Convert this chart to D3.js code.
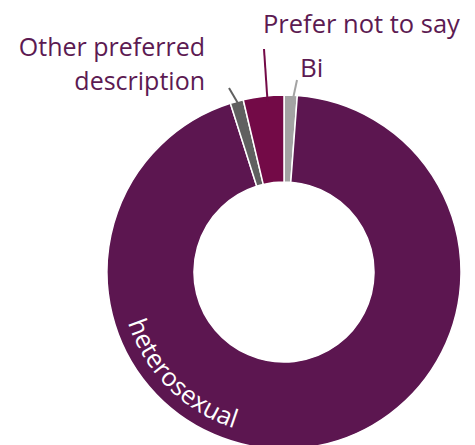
<!DOCTYPE html>
<html>
<head>
<meta charset="utf-8">
<script src="https://cdn.jsdelivr.net/npm/d3@7/dist/d3.min.js"></script>
<style>
  html, body { margin: 0; padding: 0; background: #fff; }
  svg { display: block; }
  text { font-family: "Open Sans", "Noto Sans", sans-serif; }
</style>
</head>
<body>
<svg id="chart" width="475" height="445"></svg>
<script>
// Sexual orientation breakdown (percent of respondents)
const categories = ["Bi", "heterosexual", "Other preferred description", "Prefer not to say"];
const values = [1.2, 93.9, 1.2, 3.7];
const colors = ["#a3a3a3", "#5c1650", "#606060", "#730a47"];

const width = 475, height = 445;
const cx = 284, cy = 272;
const outerR = 177, innerR = 90;
const labelColor = "#5c1a52";

const svg = d3.select("#chart");
const g = svg.append("g").attr("transform", `translate(${cx},${cy})`);

const data = categories.map((c, i) => ({ name: c, value: values[i], color: colors[i] }));

const pie = d3.pie().sort(null).value(d => d.value).startAngle(0).endAngle(2 * Math.PI);
const arcs = pie(data);
const arc = d3.arc().innerRadius(innerR).outerRadius(outerR);

g.selectAll("path.slice")
  .data(arcs)
  .join("path")
  .attr("class", "slice")
  .attr("d", arc)
  .attr("fill", d => d.data.color)
  .attr("stroke", "#fff")
  .attr("stroke-width", 1.5)
  .attr("stroke-linejoin", "round");

// point on a circle at a d3 angle (clockwise from 12 o'clock)
const polar = (a, r) => [r * Math.sin(a), -r * Math.cos(a)];

// leader lines for the small slices: start on the rim, end beneath the label
const leaders = {
  "Bi": { end: [297, 80], shift: 0.012 },
  "Other preferred description": { end: [229, 88], shift: 0.01 },
  "Prefer not to say": { end: [264, 49], shift: 0.02 }
};

arcs.filter(d => leaders[d.data.name]).forEach(d => {
  const L = leaders[d.data.name];
  const mid = (d.startAngle + d.endAngle) / 2 + L.shift;
  const p = polar(mid, outerR - 6);
  g.append("line")
    .attr("x1", p[0]).attr("y1", p[1])
    .attr("x2", L.end[0] - cx).attr("y2", L.end[1] - cy)
    .attr("stroke", d.data.color)
    .attr("stroke-width", 2);
});

// outside labels
const prefer = svg.append("text")
  .attr("x", 263).attr("y", 33)
  .attr("fill", labelColor)
  .attr("font-size", 25.5)
  .text(categories[3]);
// spread the letters so the label spans to x = 457
const pw = prefer.node().getComputedTextLength();
const pn = categories[3].length;
prefer.attr("letter-spacing", Math.max(0, (194 - pw) / pn));

svg.append("text")
  .attr("x", 300).attr("y", 77)
  .attr("fill", labelColor)
  .attr("font-size", 26)
  .text(categories[0]);

const other = svg.append("text")
  .attr("text-anchor", "end")
  .attr("fill", labelColor)
  .attr("font-size", 25);
other.append("tspan").attr("x", 205).attr("y", 56).text("Other preferred");
other.append("tspan").attr("x", 205).attr("y", 90).text("description");

// curved label inside the large slice, running counter-clockwise along the ring
const het = arcs[1];
const textR = 164;
const a0 = 252 * Math.PI / 180, a1 = 185 * Math.PI / 180;
const s = polar(a0, textR), e = polar(a1, textR);
g.append("path")
  .attr("id", "hetPath")
  .attr("d", `M${s[0]},${s[1]} A${textR},${textR} 0 0 0 ${e[0]},${e[1]}`)
  .attr("fill", "none");

g.append("text")
  .attr("fill", "#fff")
  .attr("font-size", 25.5)
  .append("textPath")
  .attr("href", "#hetPath")
  .text(het.data.name);
</script>
</body>
</html>
